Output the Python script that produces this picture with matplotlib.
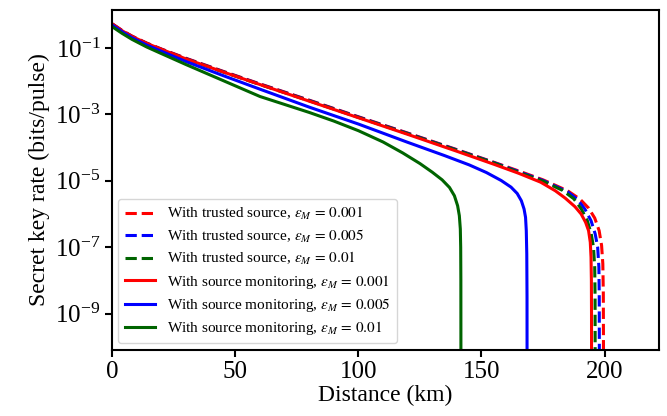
import numpy as np
import matplotlib
matplotlib.use("Agg")
import matplotlib.pyplot as plt

plt.rcParams["font.family"] = ["Liberation Serif", "DejaVu Serif"]
plt.rcParams["mathtext.fontset"] = "stix"

# Distance (km) and log10 of secret key rate

# trusted source (dashed)
d_ts_001 = [0, 4, 8, 14, 20, 30, 45, 60, 80, 100, 120, 140, 155, 165, 175, 185, 190, 193.5, 196, 197.8, 198.8, 199.3, 199.5, 199.6]
r_ts_001 = [-0.27, -0.47, -0.64, -0.85, -1.03, -1.31, -1.70, -2.08, -2.57, -3.07, -3.56, -4.06, -4.44, -4.70, -4.97, -5.30, -5.55, -5.82, -6.12, -6.50, -6.95, -7.50, -8.40, -11]

d_ts_005 = [0, 4, 8, 14, 20, 30, 45, 60, 80, 100, 120, 140, 155, 165, 175, 185, 189, 192, 194.5, 196.2, 197.2, 197.7, 197.85, 197.9]
r_ts_005 = [-0.28, -0.48, -0.65, -0.86, -1.04, -1.32, -1.71, -2.09, -2.58, -3.08, -3.57, -4.07, -4.45, -4.72, -4.99, -5.33, -5.56, -5.85, -6.20, -6.60, -7.00, -7.60, -8.50, -11]

d_ts_01 = [0, 4, 8, 14, 20, 30, 45, 60, 80, 100, 120, 140, 155, 165, 175, 183, 187.5, 190.5, 193, 194.6, 195.5, 196, 196.15, 196.2]
r_ts_01 = [-0.29, -0.49, -0.66, -0.87, -1.05, -1.33, -1.72, -2.10, -2.59, -3.09, -3.58, -4.08, -4.46, -4.74, -5.01, -5.29, -5.54, -5.84, -6.20, -6.60, -7.00, -7.60, -8.50, -11]

# source monitoring (solid)
d_sm_001 = [0, 4, 8, 14, 20, 30, 45, 60, 80, 100, 120, 140, 155, 165, 174, 180, 184, 188, 190.5, 192.3, 193.5, 194.2, 194.5, 194.65, 194.7, 194.72]
r_sm_001 = [-0.28, -0.48, -0.65, -0.86, -1.04, -1.33, -1.72, -2.10, -2.60, -3.10, -3.60, -4.11, -4.50, -4.77, -5.04, -5.30, -5.52, -5.78, -6.00, -6.25, -6.50, -6.85, -7.30, -8.00, -9.00, -11]

d_sm_005 = [0, 4, 8, 14, 20, 30, 45, 60, 80, 100, 120, 135, 145, 152, 158, 162, 164.5, 166.2, 167.3, 167.9, 168.2, 168.4, 168.5, 168.52]
r_sm_005 = [-0.31, -0.51, -0.69, -0.91, -1.10, -1.41, -1.83, -2.24, -2.78, -3.29, -3.84, -4.24, -4.52, -4.75, -4.99, -5.19, -5.38, -5.60, -5.85, -6.10, -6.50, -7.20, -8.50, -11]

d_sm_01 = [0, 4, 8, 14, 20, 30, 45, 60, 70, 80, 90, 100, 110, 118, 125, 130, 134, 137, 139, 140.3, 141, 141.4, 141.55, 141.62, 141.65]
r_sm_01 = [-0.36, -0.56, -0.74, -0.97, -1.17, -1.50, -1.98, -2.46, -2.70, -2.94, -3.20, -3.49, -3.83, -4.16, -4.48, -4.74, -4.97, -5.20, -5.45, -5.75, -6.05, -6.45, -7.00, -8.00, -11]

series = [
    (d_ts_001, r_ts_001, "red", "--", r"With trusted source, $\varepsilon_M\,=\,0.001$"),
    (d_ts_005, r_ts_005, "blue", "--", r"With trusted source, $\varepsilon_M\,=\,0.005$"),
    (d_ts_01, r_ts_01, "darkgreen", "--", r"With trusted source, $\varepsilon_M\,=\,0.01$"),
    (d_sm_001, r_sm_001, "red", "-", r"With source monitoring, $\varepsilon_M\,=\,0.001$"),
    (d_sm_005, r_sm_005, "blue", "-", r"With source monitoring, $\varepsilon_M\,=\,0.005$"),
    (d_sm_01, r_sm_01, "darkgreen", "-", r"With source monitoring, $\varepsilon_M\,=\,0.01$"),
]

fig = plt.figure(figsize=(6.67, 4.16), dpi=100)
ax = fig.add_axes([112.3 / 667, 1 - 349.5 / 416, (658.7 - 112.3) / 667, (349.5 - 10) / 416])

for d, r, color, ls, label in series:
    ax.plot(d, 10 ** np.array(r), color=color, linestyle=ls, linewidth=2.2, label=label)

ax.set_yscale("log")
ax.set_xlim(0, 222)
ax.set_ylim(10 ** -10.08, 10 ** 0.145)
ax.set_yticks([1e-1, 1e-3, 1e-5, 1e-7, 1e-9])
ax.yaxis.set_minor_locator(matplotlib.ticker.NullLocator())
ax.set_xticks([0, 50, 100, 150, 200])
ax.tick_params(labelsize=18, width=1.5, length=5)
for sp in ax.spines.values():
    sp.set_linewidth(1.5)

ax.set_xlabel("Distance (km)", fontsize=17, labelpad=1)
ax.set_ylabel("Secret key rate (bits/pulse)", fontsize=17, labelpad=4)
ax.legend(loc="lower left", fontsize=11, labelspacing=0.35, borderaxespad=0.4)

fig.savefig("out.png", dpi=100)
